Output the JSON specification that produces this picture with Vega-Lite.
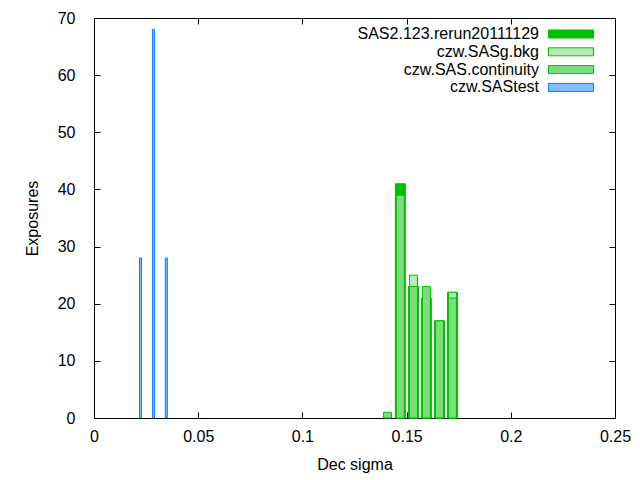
{
  "$schema": "https://vega.github.io/schema/vega-lite/v6.json",
  "width": 521,
  "height": 400,
  "autosize": {"type": "none"},
  "padding": {"left": 94, "top": 18, "right": 25, "bottom": 62},
  "config": {
    "font": "Liberation Sans",
    "view": {"stroke": "black", "strokeWidth": 1},
    "axis": {
      "grid": false,
      "domain": false,
      "labelFlush": false,
      "tickColor": "black",
      "tickSize": -6,
      "labelFontSize": 16,
      "labelColor": "black",
      "titleFontSize": 16,
      "titleFontWeight": "normal",
      "titleColor": "black"
    },
    "legend": {
      "orient": "none",
      "legendX": 469,
      "legendY": 8,
      "title": null,
      "symbolType": "M-4.5,-0.8H4.5V0.8H-4.5Z",
      "symbolSize": 100,
      "symbolStrokeWidth": 1,
      "labelAlign": "right",
      "labelOffset": -40,
      "labelFontSize": 16,
      "labelLimit": 0,
      "labelColor": "black",
      "rowPadding": 1.8
    }
  },
  "data": {
    "values": [
      {"series": "SAS2.123.rerun20111129", "sigma": 0.147, "count": 41},
      {"series": "SAS2.123.rerun20111129", "sigma": 0.1533, "count": 23},
      {"series": "SAS2.123.rerun20111129", "sigma": 0.1595, "count": 21},
      {"series": "SAS2.123.rerun20111129", "sigma": 0.1658, "count": 17},
      {"series": "SAS2.123.rerun20111129", "sigma": 0.172, "count": 22},
      {"series": "czw.SASg.bkg", "sigma": 0.147, "count": 39},
      {"series": "czw.SASg.bkg", "sigma": 0.1533, "count": 25},
      {"series": "czw.SASg.bkg", "sigma": 0.1595, "count": 21},
      {"series": "czw.SASg.bkg", "sigma": 0.1658, "count": 17},
      {"series": "czw.SASg.bkg", "sigma": 0.172, "count": 22},
      {"series": "czw.SAS.continuity", "sigma": 0.1408, "count": 1},
      {"series": "czw.SAS.continuity", "sigma": 0.147, "count": 39},
      {"series": "czw.SAS.continuity", "sigma": 0.1533, "count": 23},
      {"series": "czw.SAS.continuity", "sigma": 0.1595, "count": 23},
      {"series": "czw.SAS.continuity", "sigma": 0.1658, "count": 17},
      {"series": "czw.SAS.continuity", "sigma": 0.172, "count": 21},
      {"series": "czw.SAStest", "sigma": 0.0223, "count": 28},
      {"series": "czw.SAStest", "sigma": 0.0285, "count": 68},
      {"series": "czw.SAStest", "sigma": 0.0347, "count": 28}
    ]
  },
  "layer": [
    {
      "transform": [{"filter": "datum.series === 'SAS2.123.rerun20111129'"}],
      "mark": {"type": "bar", "orient": "vertical", "size": 10, "strokeWidth": 1},
      "encoding": {
        "x": {
          "field": "sigma", "type": "quantitative",
          "scale": {"domain": [0, 0.25], "nice": false, "padding": 0},
          "axis": {"orient": "bottom", "values": [0, 0.05, 0.1, 0.15, 0.2, 0.25], "format": "~g", "title": "Dec sigma", "labelPadding": 16, "titlePadding": 12}
        },
        "y": {
          "field": "count", "type": "quantitative",
          "scale": {"domain": [0, 70], "nice": false, "padding": 0},
          "axis": {"orient": "left", "values": [0, 10, 20, 30, 40, 50, 60, 70], "title": "Exposures", "labelPadding": 25, "titlePadding": 17}
        },
        "fill": {
          "field": "series", "type": "nominal",
          "scale": {"domain": ["SAS2.123.rerun20111129", "czw.SASg.bkg", "czw.SAS.continuity", "czw.SAStest"], "range": ["#00c000", "#b8ebb8", "#7adc7a", "#80c0ff"]}
        },
        "stroke": {
          "field": "series", "type": "nominal",
          "scale": {"domain": ["SAS2.123.rerun20111129", "czw.SASg.bkg", "czw.SAS.continuity", "czw.SAStest"], "range": ["#00c000", "#00c000", "#00c000", "#0080ff"]}
        }
      }
    },
    {
      "transform": [{"filter": "datum.series === 'czw.SASg.bkg'"}],
      "mark": {"type": "bar", "orient": "vertical", "size": 8, "strokeWidth": 1},
      "encoding": {
        "x": {"field": "sigma", "type": "quantitative", "axis": {"orient": "top", "values": [0, 0.05, 0.1, 0.15, 0.2, 0.25], "labels": false, "title": null}},
        "y": {"field": "count", "type": "quantitative", "axis": {"orient": "right", "values": [0, 10, 20, 30, 40, 50, 60, 70], "labels": false, "title": null}},
        "fill": {"field": "series", "type": "nominal"},
        "stroke": {"field": "series", "type": "nominal"}
      }
    },
    {
      "transform": [{"filter": "datum.series === 'czw.SAS.continuity'"}],
      "mark": {"type": "bar", "orient": "vertical", "size": 8, "strokeWidth": 1},
      "encoding": {
        "x": {"field": "sigma", "type": "quantitative", "axis": null},
        "y": {"field": "count", "type": "quantitative", "axis": null},
        "fill": {"field": "series", "type": "nominal"},
        "stroke": {"field": "series", "type": "nominal"}
      }
    },
    {
      "transform": [{"filter": "datum.series === 'czw.SAStest'"}],
      "mark": {"type": "bar", "orient": "vertical", "size": 2, "strokeWidth": 1},
      "encoding": {
        "x": {"field": "sigma", "type": "quantitative", "axis": null},
        "y": {"field": "count", "type": "quantitative", "axis": null},
        "fill": {"field": "series", "type": "nominal"},
        "stroke": {"field": "series", "type": "nominal"}
      }
    }
  ],
  "resolve": {"axis": {"x": "independent", "y": "independent"}}
}
